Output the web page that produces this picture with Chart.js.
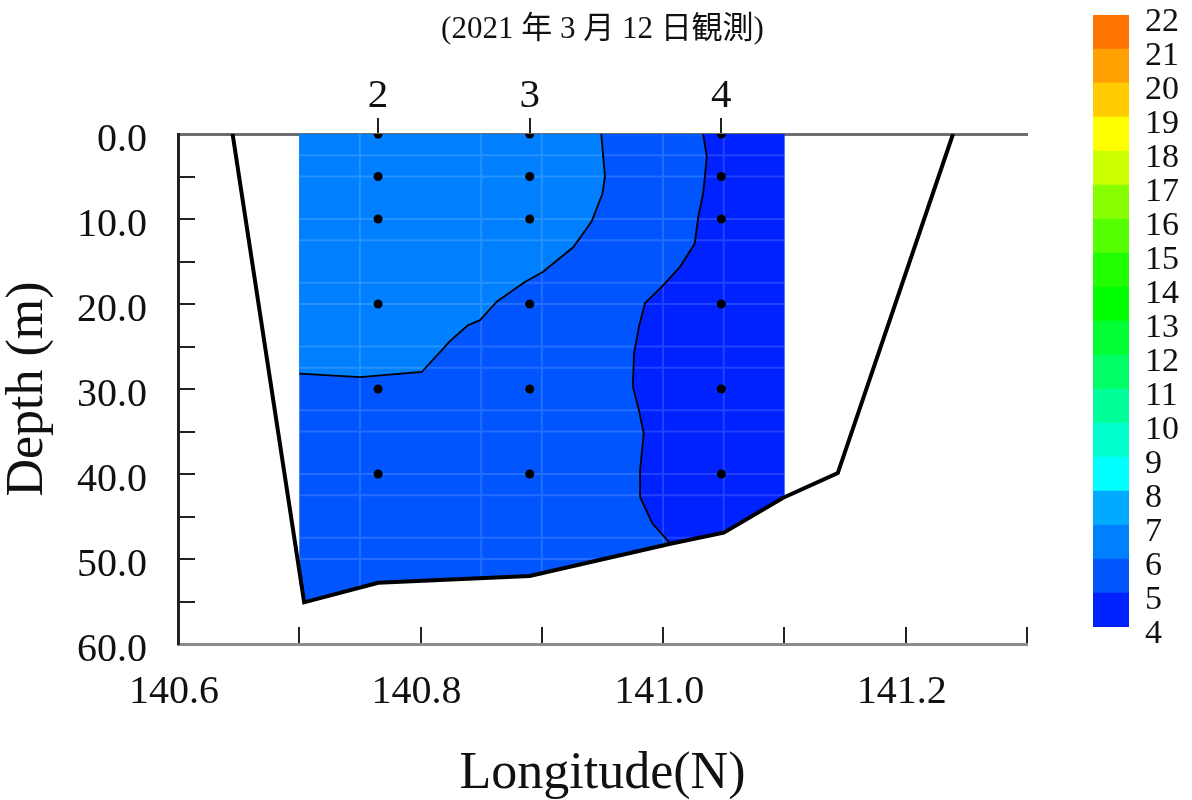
<!DOCTYPE html>
<html>
<head>
<meta charset="utf-8">
<script src="https://cdn.jsdelivr.net/npm/chart.js@4.4.1/dist/chart.umd.min.js"></script>
<style>
html,body{margin:0;padding:0;background:#fff;}
#wrap{position:relative;width:1192px;height:800px;overflow:hidden;background:#fff;}
#main{position:absolute;left:0;top:0;}
#cbar{position:absolute;left:1093px;top:0;}
</style>
</head>
<body>
<div id="wrap">
  <canvas id="main" width="1192" height="800"></canvas>
  <canvas id="cbar" width="99" height="800"></canvas>
</div>
<script>
// ---------------- data ----------------
const chartTitle = '(2021 年 3 月 12 日観測)';
const xTitle = 'Longitude(N)';
const yTitle = 'Depth (m)';

const lonMin = 140.6, lonMax = 141.3, lonStep = 0.1;
const depthMin = 0, depthMax = 60, depthStep = 5;

// colour levels (°C) and band colours (band i = levels[i]..levels[i+1])
const levels = [4,5,6,7,8,9,10,11,12,13,14,15,16,17,18,19,20,21,22];
const levelColors = ['#0022FF','#0055FF','#0080FF','#00AAFF','#00FFFF','#00FFCC','#00FF99','#00FF66','#00FF33',
                     '#00FF00','#22FF00','#55FF00','#88FF00','#CCFF00','#FFFF00','#FFCC00','#FFA000','#FF7300'];

// stations
const stationNames = ['2','3','4'];
const stationLon = [140.765, 140.890, 141.048];
const sampleDepths = [0, 5, 10, 20, 30, 40];

// sea-bottom profile
const bathyLon   = [140.645, 140.704, 140.765, 140.890, 141.006, 141.050, 141.099, 141.144, 141.239];
const bathyDepth = [0,       55.1,    52.8,    52.0,    48.2,    46.9,    42.8,    39.9,    0];

// extent of the gridded field
const fieldLon = [140.7, 141.1];

// 6 °C isotherm
const c6Lon   = [140.949,140.952,140.950,140.941,140.926,140.901,140.886,140.863,140.849,140.839,140.824,140.801,140.750,140.700];
const c6Depth = [0,      5.0,    7.0,    10.3,   13.3,   16.2,   17.4,   19.7,   21.9,   22.5,   24.4,   28.0,   28.6,   28.2];
// 5 °C isotherm
const c5Lon   = [141.033,141.036,141.033,141.029,141.026,141.014,141.000,140.985,140.980,140.976,140.975,140.980,140.984,140.981,140.981,140.991,141.006];
const c5Depth = [0,      2.7,    7.0,    9.7,    12.9,   15.6,   17.8,   19.9,   22.7,   25.8,   29.7,   32.5,   35.2,   39.5,   42.7,   45.8,   48.2];
// band fill colours inside the field
const bandWarm = '#0080FF', bandMid = '#0055FF', bandCold = '#0022FF';

// faint mesh lines of the gridded field
const meshLon = [140.75, 140.85, 140.90, 141.00, 141.05];
const meshDepth = [2.5, 5, 10, 12.5, 17.5, 20, 25, 27.5, 32.5, 35, 40, 42.5, 47.5, 50];

// ---------------- geometry helpers (clip to bottom profile) ----------------
function bathyAt(lon){
  for (let i = 0; i < bathyLon.length - 1; i++){
    const a = bathyLon[i], b = bathyLon[i+1];
    if (lon >= a && lon <= b){
      const t = (lon - a) / (b - a);
      return bathyDepth[i] + t * (bathyDepth[i+1] - bathyDepth[i]);
    }
  }
  return 0;
}
function rightLonAtDepth(d){
  const k = bathyDepth.indexOf(Math.max(...bathyDepth));
  for (let i = k; i < bathyLon.length - 1; i++){
    const d0 = bathyDepth[i], d1 = bathyDepth[i+1];
    if (d <= d0 && d >= d1){
      const t = (d0 - d) / (d0 - d1);
      return bathyLon[i] + t * (bathyLon[i+1] - bathyLon[i]);
    }
  }
  return bathyLon[bathyLon.length-1];
}
const pts = (lons, deps) => lons.map((x, i) => ({x, y: deps[i]}));
const [L, R] = fieldLon;

const midPoly = [{x:L, y:0}, {x:R, y:0}, {x:R, y:bathyAt(R)}];
for (let i = bathyLon.length - 1; i >= 0; i--) if (bathyLon[i] > L && bathyLon[i] < R) midPoly.push({x:bathyLon[i], y:bathyDepth[i]});
midPoly.push({x:L, y:bathyAt(L)});

const warmPoly = pts(c6Lon, c6Depth).concat([{x:L, y:0}]);

const coldPoly = pts(c5Lon, c5Depth);
const c5End = c5Lon[c5Lon.length-1];
for (let i = 0; i < bathyLon.length; i++) if (bathyLon[i] > c5End + 1e-6 && bathyLon[i] < R) coldPoly.push({x:bathyLon[i], y:bathyDepth[i]});
coldPoly.push({x:R, y:bathyAt(R)}, {x:R, y:0});

const mesh = [];
meshLon.forEach(l => mesh.push({x:l, y:0}, {x:l, y:bathyAt(l)}, {x:l, y:null}));
meshDepth.forEach(d => mesh.push({x:L, y:d}, {x:Math.min(R, rightLonAtDepth(d)), y:d}, {x:L, y:null}));

const dots = [];
stationLon.forEach(l => sampleDepths.forEach(d => dots.push({x:l, y:d})));

// ---------------- chart ----------------
const SERIF = "'Liberation Serif','Times New Roman',serif";
Chart.defaults.font.family = SERIF;
Chart.defaults.color = '#111';

const polyDS = (data, color, order) => ({
  data, order, fill: 'shape', backgroundColor: color, borderColor: 'rgba(0,0,0,0)', borderWidth: 0,
  pointRadius: 0, tension: 0
});

new Chart(document.getElementById('main'), {
  type: 'line',
  data: {
    datasets: [
      {label:'stations', data: dots, showLine: false, pointRadius: 4.5, pointBackgroundColor:'#000', pointBorderWidth:0, order: 0},
      {label:'bottom', data: pts(bathyLon, bathyDepth), borderColor:'#000', borderWidth: 4, pointRadius: 0, fill:false, order: 1},
      {label:'6', data: pts(c6Lon, c6Depth), borderColor:'#000', borderWidth: 1.8, pointRadius: 0, fill:false, order: 2},
      {label:'5', data: pts(c5Lon, c5Depth), borderColor:'#000', borderWidth: 1.8, pointRadius: 0, fill:false, order: 2},
      {label:'mesh', data: mesh, borderColor:'rgba(255,255,255,0.14)', borderWidth: 2, pointRadius: 0, fill:false, spanGaps:false, order: 3},
      polyDS(warmPoly, bandWarm, 4),
      polyDS(coldPoly, bandCold, 4),
      polyDS(midPoly, bandMid, 5)
    ]
  },
  options: {
    responsive: false,
    animation: false,
    events: [],
    layout: {padding: {left: 0, right: 165, top: 0, bottom: 0}},
    plugins: {
      legend: {display: false},
      tooltip: {enabled: false},
      title: {
        display: true, text: chartTitle, fullSize: false, color: '#111',
        font: {family: "'Liberation Serif','Noto Sans CJK JP',serif", size: 31, weight: 'normal', lineHeight: 1},
        padding: {top: 14, bottom: 10}
      }
    },
    scales: {
      x: {
        type: 'linear', position: 'bottom', min: lonMin, max: lonMax,
        afterFit: s => { s.height = 156; },
        ticks: {
          stepSize: lonStep, autoSkip: false, maxRotation: 0, color: '#111',
          font: {size: 40, lineHeight: 1}, padding: 45, labelOffset: -4,
          callback: v => { const k = Math.round((v - lonMin) / lonStep); return k % 2 === 0 ? v.toFixed(1) : ''; }
        },
        grid: {drawOnChartArea: false, drawTicks: true, tickLength: -17, color: '#222', lineWidth: 2},
        border: {display: true, color: '#8c8c8c', width: 3},
        title: {display: true, text: xTitle, color: '#111', font: {size: 52, lineHeight: 1}, padding: {top: 0, bottom: 0}}
      },
      x2: {
        type: 'linear', position: 'top', min: lonMin, max: lonMax,
        afterBuildTicks: s => { s.ticks = stationLon.map(v => ({value: v})); },
        afterFit: s => { s.height = 79; },
        ticks: {
          autoSkip: false, maxRotation: 0, color: '#111', font: {size: 41, lineHeight: 1}, padding: 1,
          callback: (v, i) => stationNames[i]
        },
        grid: {drawOnChartArea: false, drawTicks: true, tickLength: 16, color: '#222', lineWidth: 2},
        border: {display: true, color: '#6e6e6e', width: 3}
      },
      y: {
        type: 'linear', position: 'left', reverse: true, min: depthMin, max: depthMax,
        afterFit: s => { s.width = 178; },
        ticks: {
          stepSize: depthStep, autoSkip: false, color: '#111', font: {size: 40, lineHeight: 1},
          padding: 48, labelOffset: 6,
          callback: v => (v % 10 === 0 ? v.toFixed(1) : '')
        },
        grid: {drawOnChartArea: false, drawTicks: true, tickLength: -17, color: '#222', lineWidth: 2},
        border: {display: true, color: '#222', width: 3},
        title: {display: true, text: yTitle, color: '#111', font: {size: 52, lineHeight: 1}, padding: {top: 2, bottom: 0}}
      }
    }
  }
});

// ---------------- colour bar ----------------
new Chart(document.getElementById('cbar'), {
  type: 'bar',
  data: {
    labels: [''],
    datasets: levelColors.map((c, i) => ({
      label: levels[i] + '-' + levels[i+1],
      data: [[levels[i], levels[i+1]]],
      backgroundColor: c, borderWidth: 0, grouped: false,
      barPercentage: 1, categoryPercentage: 1
    }))
  },
  options: {
    responsive: false,
    animation: false,
    events: [],
    layout: {padding: {top: 15, bottom: 173, left: 0, right: 0}},
    plugins: {legend: {display: false}, tooltip: {enabled: false}},
    scales: {
      x: {display: false},
      y: {
        position: 'right', min: levels[0], max: levels[levels.length-1],
        afterFit: s => { s.width = 63; s.paddingTop = 0; s.paddingBottom = 0; },
        ticks: {stepSize: 1, autoSkip: false, color: '#111', font: {size: 34, lineHeight: 1}, padding: 16, labelOffset: 7},
        grid: {display: false, drawTicks: false},
        border: {display: false}
      }
    }
  }
});
</script>
</body>
</html>
